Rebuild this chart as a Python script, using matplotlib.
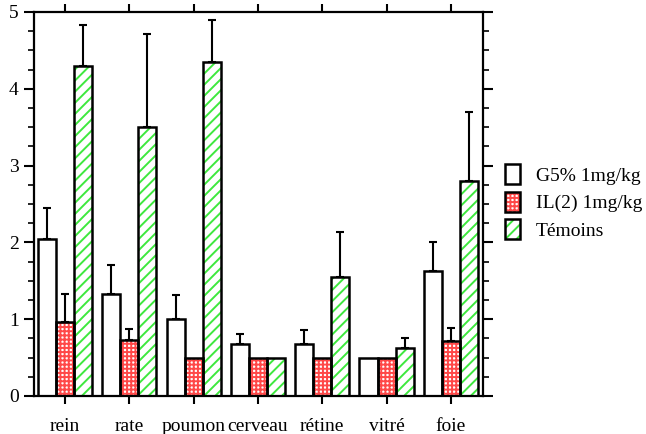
import numpy as np
import matplotlib
matplotlib.use("Agg")
import matplotlib.pyplot as plt
from matplotlib.patches import Patch
from matplotlib.ticker import MultipleLocator

# données
organes = ["rein", "rate", "poumon", "cerveau", "rétine", "vitré", "foie"]
g5 = [2.05, 1.33, 1.00, 0.68, 0.68, 0.50, 1.63]
g5_err = [0.40, 0.37, 0.31, 0.13, 0.18, 0.0, 0.37]
il2 = [0.97, 0.73, 0.50, 0.50, 0.50, 0.50, 0.72]
il2_err = [0.36, 0.14, 0.0, 0.0, 0.0, 0.0, 0.17]
temoins = [4.30, 3.50, 4.35, 0.50, 1.55, 0.63, 2.80]
temoins_err = [0.53, 1.22, 0.54, 0.0, 0.58, 0.12, 0.90]
labels = ["G5% 1mg/kg", "IL(2) 1mg/kg", "Témoins"]

plt.rcParams["font.family"] = ["Liberation Serif", "DejaVu Serif"]
plt.rcParams["font.size"] = 14
plt.rcParams["hatch.linewidth"] = 1.4

fig = plt.figure(figsize=(6.46, 4.34), dpi=100)
ax = fig.add_axes([34 / 646, 1 - 396 / 434, 449 / 646, 384 / 434])

x = np.arange(len(organes))
w = 0.28
series = [
    (g5, g5_err, None, None),
    (il2, il2_err, "#ff4848", "++++"),
    (temoins, temoins_err, "#3ee83e", "///"),
]

handles = []
for i, (vals, errs, hc, hatch) in enumerate(series):
    pos = x + (i - 1) * w
    if hatch:
        ax.bar(pos, vals, w, color="white", edgecolor=hc, hatch=hatch, linewidth=0, zorder=2)
    ax.bar(pos, vals, w, fill=False, edgecolor="black", linewidth=1.8, zorder=3)
    errs = np.array(errs)
    m = errs > 0
    ax.errorbar(pos[m], np.array(vals)[m], yerr=[np.zeros(m.sum()), errs[m]],
                fmt="none", ecolor="black", elinewidth=1.5, capsize=3, capthick=1.5, zorder=1)
    if hatch:
        h = (Patch(facecolor="white", edgecolor=hc, hatch=hatch, linewidth=0),
             Patch(fill=False, edgecolor="black", linewidth=1.8))
    else:
        h = Patch(facecolor="white", edgecolor="black", linewidth=1.8)
    handles.append(h)

ax.set_xlim(-0.48, 6.5)
ax.set_ylim(0, 5)
ax.set_xticks(x)
ax.set_xticklabels(organes)
ax.yaxis.set_major_locator(MultipleLocator(1))
ax.yaxis.set_minor_locator(MultipleLocator(0.25))

for s in ax.spines.values():
    s.set_linewidth(1.6)

ax.tick_params(axis="y", which="major", direction="out", length=7, width=1.5,
               right=True, pad=4)
ax.tick_params(axis="y", which="minor", direction="out", length=4, width=1.2, right=True)
ax.tick_params(axis="x", which="major", direction="out", length=6, width=1.5,
               top=True, pad=10)

fig.legend(handles, labels, loc="center left",
           bbox_to_anchor=(505 / 646, 1 - 202 / 434), frameon=False,
           handlelength=0.77, handleheight=1.2, handletextpad=0.8,
           labelspacing=0.35, borderpad=0, borderaxespad=0, fontsize=14)

fig.savefig("out.png", dpi=100)
